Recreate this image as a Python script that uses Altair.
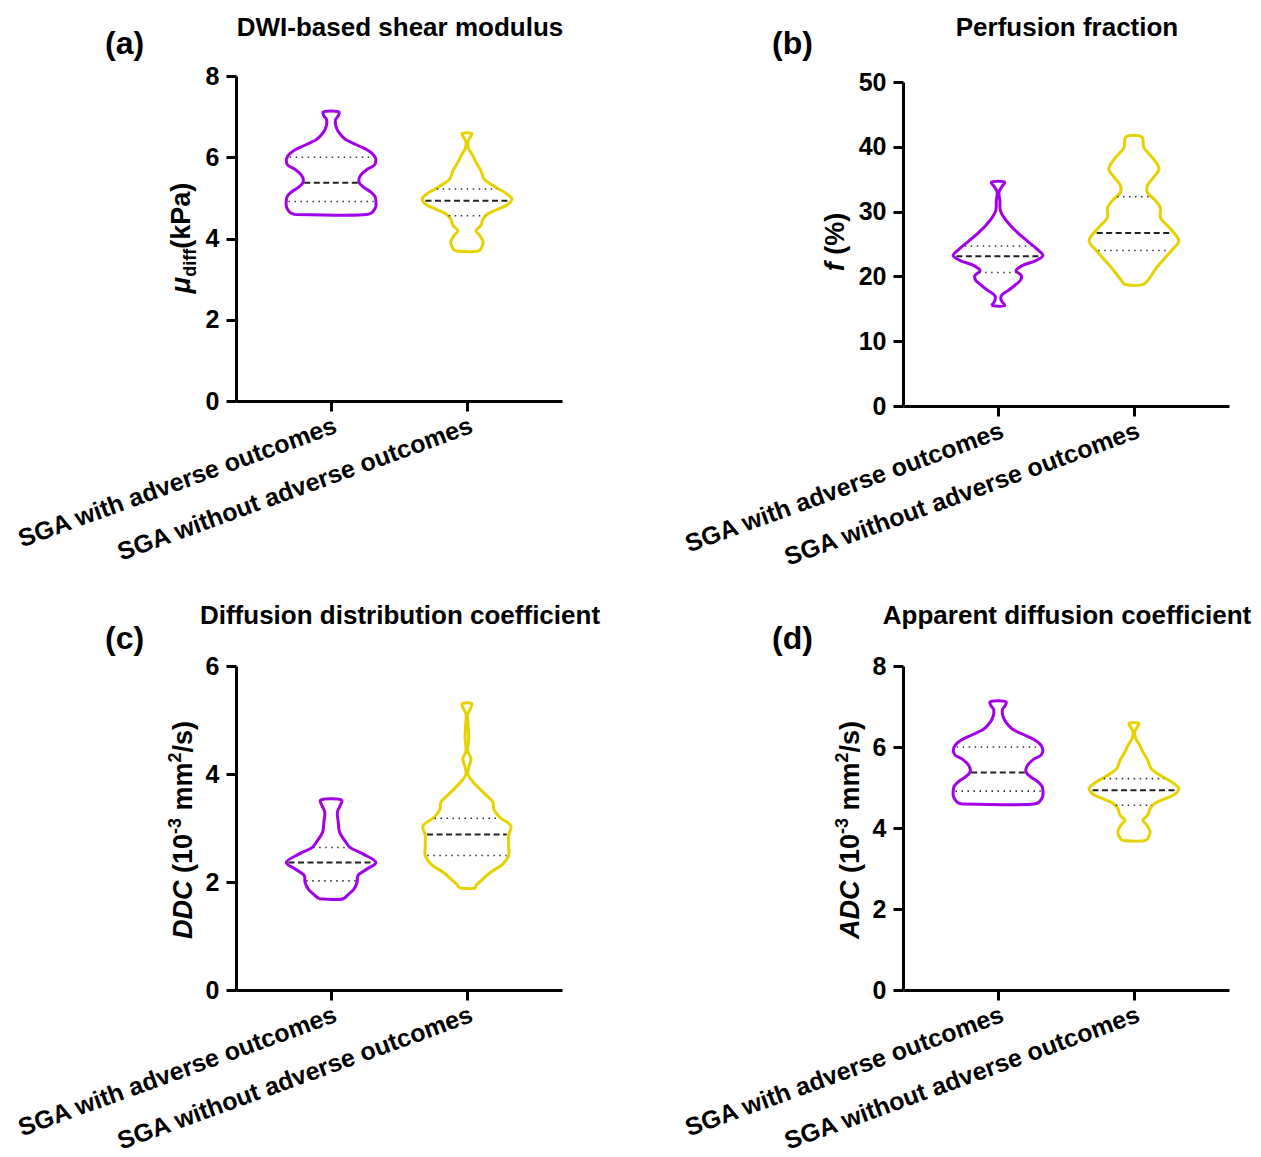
import altair as alt
import numpy as np
import pandas as pd

GROUPS = ["SGA with adverse outcomes", "SGA without adverse outcomes"]
COLORS = ["#A300EA", "#E6D200"]
CENTERS = [1, 2]
W = 0.33  # max half-width of a violin in x units

# ---- (a) DWI-based shear modulus  /  (d) Apparent diffusion coefficient ----
A_P_LEV = [4.59, 4.62, 4.70, 4.80, 4.92, 5.03, 5.14, 5.26, 5.37, 5.45, 5.57, 5.70,
           5.80, 5.92, 6.04, 6.17, 6.29, 6.45, 6.62, 6.70, 6.80, 6.93, 7.02, 7.11]
A_P_DEN = [0.80, 0.89, 0.96, 1.00, 1.00, 0.98, 0.89, 0.73, 0.63, 0.62, 0.67, 0.80,
           0.96, 1.00, 0.96, 0.82, 0.60, 0.31, 0.17, 0.13, 0.10, 0.10, 0.16, 0.18]
A_P_Q = [4.91, 5.37, 6.00]
A_Y_LEV = [3.70, 3.79, 3.91, 4.07, 4.19, 4.32, 4.48, 4.61, 4.73, 4.85, 4.98, 5.10,
           5.22, 5.34, 5.47, 5.67, 5.88, 6.04, 6.21, 6.37, 6.47, 6.58]
A_Y_DEN = [0.27, 0.33, 0.36, 0.29, 0.20, 0.31, 0.36, 0.47, 0.71, 0.93, 1.00, 0.89,
           0.71, 0.53, 0.38, 0.31, 0.20, 0.13, 0.04, 0.02, 0.06, 0.11]
A_Y_Q = [4.56, 4.93, 5.22]

# ---- (b) Perfusion fraction ----
B_P_LEV = [15.5, 16.3, 17.0, 17.8, 18.6, 19.4, 20.1, 20.9, 21.7, 22.4, 23.2, 24.2,
           25.3, 26.6, 27.8, 29.1, 30.2, 31.7, 33.0, 33.8, 34.5]
B_P_DEN = [0.15, 0.07, 0.07, 0.22, 0.37, 0.50, 0.52, 0.40, 0.55, 0.83, 1.00, 0.87,
           0.68, 0.46, 0.28, 0.13, 0.05, 0.04, 0.02, 0.08, 0.15]
B_P_Q = [20.6, 23.1, 24.7]
B_Y_LEV = [18.8, 21.4, 24.0, 25.5, 27.6, 29.1, 30.6, 31.7, 33.0, 34.0, 35.3, 36.6,
           38.1, 39.9, 41.5]
B_Y_DEN = [0.22, 0.51, 0.84, 1.00, 0.78, 0.59, 0.59, 0.48, 0.30, 0.30, 0.44, 0.56,
           0.44, 0.22, 0.18]
B_Y_Q = [24.0, 26.7, 32.3]

# ---- (c) Diffusion distribution coefficient ----
C_P_LEV = [1.69, 1.75, 1.87, 1.99, 2.12, 2.24, 2.36, 2.52, 2.64, 2.76, 2.92, 3.11,
           3.29, 3.41, 3.51]
C_P_DEN = [0.27, 0.36, 0.51, 0.58, 0.60, 0.80, 1.00, 0.71, 0.42, 0.31, 0.19, 0.16,
           0.14, 0.20, 0.24]
C_P_Q = [2.02, 2.36, 2.64]
C_Y_LEV = [1.89, 1.93, 2.02, 2.18, 2.33, 2.49, 2.67, 2.86, 3.04, 3.20, 3.35, 3.48,
           3.60, 3.72, 3.88, 4.00, 4.12, 4.28, 4.43, 4.65, 4.89, 5.11, 5.20, 5.30]
C_Y_DEN = [0.18, 0.20, 0.31, 0.53, 0.80, 0.93, 0.93, 0.93, 0.98, 0.73, 0.60, 0.58,
           0.44, 0.29, 0.11, 0.02, 0.04, 0.09, 0.02, 0.04, 0.03, 0.02, 0.07, 0.11]
C_Y_Q = [2.49, 2.88, 3.18]

FONT = "Liberation Sans"
LABEL_EXPR = ("datum.value == 1 ? '" + GROUPS[0] + "' : (datum.value == 2 ? '"
              + GROUPS[1] + "' : '')")

# approximate advance widths (em) of Arial/Liberation Sans Bold, for chaining title pieces
ADV = {'D': .722, 'C': .722, 'A': .722, '(': .333, ')': .333, '1': .556, '0': .556,
       '-': .333, '3': .556, 'm': .889, '2': .556, '/': .278, 's': .556, ' ': .278,
       'μ': .611, 'd': .611, 'i': .278, 'f': .333, 'k': .556, 'P': .667, 'a': .556,
       '%': .889}


def outline_rows(levels, dens, center, group):
    rows, k = [], 0
    for v, d in zip(levels, dens):
        rows.append(dict(x=center - W * d, y=v, o=k, g=group)); k += 1
    for v, d in zip(levels[::-1], dens[::-1]):
        rows.append(dict(x=center + W * d, y=v, o=k, g=group)); k += 1
    rows.append(dict(x=center - W * dens[0], y=levels[0], o=k, g=group))
    return rows


def quart_rows(levels, dens, q, center):
    rows = []
    for i, v in enumerate(q):
        hw = W * float(np.interp(v, levels, dens)) * 0.95
        rows.append(dict(x=center - hw, x2=center + hw, y=v,
                         kind="median" if i == 1 else "quartile"))
    return rows


def txt(s, x, y, size, angle=0, style="normal", align="left", baseline="alphabetic"):
    return alt.Chart(alt.Data(values=[{}])).mark_text(
        text=s, font=FONT, fontSize=size, fontWeight="bold", fontStyle=style,
        angle=angle, align=align, baseline=baseline, color="black"
    ).encode(x=alt.value(x), y=alt.value(y))


def ytitle(pieces, base_x, center_y):
    """pieces: (text, size, style, xshift); drawn bottom-to-top, rotated 270."""
    widths = [sum(ADV.get(ch, .6) for ch in s) * size for s, size, _, _ in pieces]
    y = center_y + sum(widths) / 2
    out = []
    for (s, size, style, shift), w in zip(pieces, widths):
        if s.strip():
            out.append(txt(s, base_x + shift, y, size, angle=270, style=style))
        y -= w
    return out


def panel(vios, ymax, yvals, height, yrange, title, title_y, letter, letter_y,
          ypieces, ybase, ycenter):
    orows, qrows = [], []
    for (lev, den, q), c, g in zip(vios, CENTERS, GROUPS):
        orows += outline_rows(lev, den, c, g)
        qrows += quart_rows(lev, den, q, c)
    odf = pd.DataFrame(orows)
    qdf = pd.DataFrame(qrows)

    xaxis = alt.Axis(values=[1, 2], labelExpr=LABEL_EXPR, title=None, grid=False,
                     domainColor="black", domainWidth=3, tickColor="black", tickWidth=3,
                     tickSize=10, labelFont=FONT, labelFontWeight="bold", labelFontSize=25,
                     labelColor="black", labelAngle=340, labelAlign="right",
                     labelBaseline="top", labelPadding=2, labelFlush=False,
                     labelOverlap=False, labelLimit=600)
    yaxis = alt.Axis(values=yvals, title=None, grid=False, domainColor="black",
                     domainWidth=3, tickColor="black", tickWidth=3, tickSize=10,
                     labelFont=FONT, labelFontWeight="bold", labelFontSize=25,
                     labelColor="black", labelPadding=7, labelFlush=False,
                     labelOverlap=False)
    if yrange is not None:
        yscale = alt.Scale(domain=[0, ymax], nice=False, zero=True, range=yrange)
    else:
        yscale = alt.Scale(domain=[0, ymax], nice=False, zero=True)
    xenc = alt.X("x:Q", scale=alt.Scale(domain=[0.3, 2.7], nice=False, zero=False), axis=xaxis)
    yenc = alt.Y("y:Q", scale=yscale, axis=yaxis)

    lines = alt.Chart(odf).mark_line(strokeWidth=3, interpolate="catmull-rom").encode(
        x=xenc, y=yenc,
        color=alt.Color("g:N", scale=alt.Scale(domain=GROUPS, range=COLORS), legend=None),
        detail="g:N", order="o:Q")
    dotted = alt.Chart(qdf).transform_filter("datum.kind == 'quartile'").mark_rule(
        strokeDash=[1.5, 4.5], strokeWidth=1.6, color="#333333").encode(
        x=xenc, x2="x2:Q", y=yenc)
    dashed = alt.Chart(qdf).transform_filter("datum.kind == 'median'").mark_rule(
        strokeDash=[6, 3.5], strokeWidth=2, color="#222222").encode(
        x=xenc, x2="x2:Q", y=yenc)

    layers = [lines, dotted, dashed,
              txt(title, 164, title_y, 26, align="center"),
              txt(letter, -131, letter_y, 32)]
    layers += ytitle(ypieces, ybase, ycenter)
    return alt.layer(*layers).properties(width=326, height=height)


YT_A = [("μ", 27, "italic", 0), ("diff", 18, "normal", 6), ("(kPa)", 27, "normal", 0)]
YT_B = [("f", 27, "italic", 0), (" ", 27, "normal", 0), ("(%)", 27, "normal", 0)]


def yt_cd(name):
    return [(name, 27, "italic", 0), (" ", 27, "normal", 0), ("(10", 27, "normal", 0),
            ("-3", 18, "normal", -11), (" ", 27, "normal", 0), ("mm", 27, "normal", 0),
            ("2", 18, "normal", -11), ("/s)", 27, "normal", 0)]


pa = panel([(A_P_LEV, A_P_DEN, A_P_Q), (A_Y_LEV, A_Y_DEN, A_Y_Q)], 8, [0, 2, 4, 6, 8],
           325, None, "DWI-based shear modulus", -40, "(a)", -22, YT_A, -46, 162)
pb = panel([(B_P_LEV, B_P_DEN, B_P_Q), (B_Y_LEV, B_Y_DEN, B_Y_Q)], 50,
           [0, 10, 20, 30, 40, 50], 330, [330, 6], "Perfusion fraction", -40, "(b)", -22,
           YT_B, -59, 166)
pc = panel([(C_P_LEV, C_P_DEN, C_P_Q), (C_Y_LEV, C_Y_DEN, C_Y_Q)], 6, [0, 2, 4, 6],
           324, None, "Diffusion distribution coefficient", -42, "(c)", -17,
           yt_cd("DDC"), -44, 164)
pd_ = panel([(A_P_LEV, A_P_DEN, A_P_Q), (A_Y_LEV, A_Y_DEN, A_Y_Q)], 8, [0, 2, 4, 6, 8],
            324, None, "Apparent diffusion coefficient", -42, "(d)", -17,
            yt_cd("ADC"), -44, 164)

chart = alt.concat(pa, pb, pc, pd_, columns=2,
                   spacing={"row": 260, "column": 341}, bounds="flush").properties(
    padding={"left": 5, "top": 7, "right": 0, "bottom": 0}
).configure(font=FONT).configure_view(stroke="transparent", strokeWidth=0)

chart.save("out.html", embed_options={"renderer": "svg", "actions": False})
